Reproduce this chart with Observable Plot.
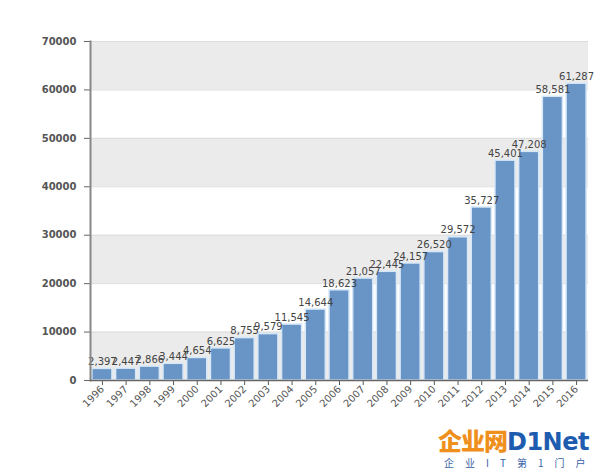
<!DOCTYPE html>
<html>
<head>
<meta charset="utf-8">
<script src="https://cdn.jsdelivr.net/npm/d3@7"></script>
<script src="https://cdn.jsdelivr.net/npm/@observablehq/plot@0.6"></script>
<style>
  html, body { margin: 0; padding: 0; background: #fff; }
  #wrap { position: relative; width: 600px; height: 473px; }
  #mark { position: absolute; left: 438px; top: 426px; width: 162px; font-family: "DejaVu Sans", sans-serif; }
  #mark .logo { font-size: 24px; font-weight: bold; line-height: 28px; white-space: nowrap; }
  #mark .cn { color: #f0901c; font-family: "Noto Sans CJK SC", sans-serif; font-weight: 900; letter-spacing: -1px; }
  #mark .en { color: #1d5cae; letter-spacing: -0.5px; }
  #mark .sub { font-family: "Noto Sans CJK SC", sans-serif; font-size: 10px; color: #3a63a8; letter-spacing: 11px; margin-left: 6px; line-height: 14px; white-space: nowrap; }
</style>
</head>
<body>
<div id="wrap">
  <div id="chart"></div>
  <div id="mark"><div class="logo"><span class="cn">企业网</span><span class="en">D1Net</span></div><div class="sub">企业IT第1门户</div></div>
</div>
<script>
const years = ["1996","1997","1998","1999","2000","2001","2002","2003","2004","2005","2006","2007","2008","2009","2010","2011","2012","2013","2014","2015","2016"];
const values = [2397,2447,2866,3444,4654,6625,8755,9579,11545,14644,18623,21057,22445,24157,26520,29572,35727,45401,47208,58581,61287];
const yTicks = [0,10000,20000,30000,40000,50000,60000,70000];
const greyBandStarts = [0,20000,40000,60000];
const bandSize = 10000;

const data = years.map((y, i) => ({year: y, value: values[i]}));
const fmt = d3.format(",");

const chart = Plot.plot({
  width: 600,
  height: 473,
  marginLeft: 90,
  marginRight: 12,
  marginTop: 41,
  marginBottom: 93,
  style: {fontFamily: "DejaVu Sans, sans-serif", fontSize: "10px", color: "#555", background: "transparent"},
  x: {domain: years, paddingInner: 0.155, paddingOuter: 0.08, round: false, label: null},
  y: {domain: [0, 70000], label: null},
  marks: [
    Plot.rect(greyBandStarts, {y1: d => d, y2: d => d + bandSize, fill: "#ebebeb"}),
    Plot.ruleY(yTicks, {stroke: "#dcdcdc", strokeWidth: 1}),
    Plot.barY(data, {x: "year", y: "value", fill: "#6994c6", stroke: "#d6e8f8", strokeWidth: 1.5}),
    Plot.text(data, {x: "year", y: "value", text: d => fmt(d.value), dy: -7, fill: "#444", fontSize: 10}),
    Plot.axisY({ticks: yTicks, tickFormat: d => String(d), tickSize: 6, tickPadding: 8, fontWeight: "bold", fill: "#555", stroke: "#666"}),
    Plot.axisX({tickRotate: -45, tickSize: 5, tickPadding: 2, fill: "#555", stroke: "#555", fontSize: 10}),
    Plot.frame({anchor: "left", stroke: "#888", strokeWidth: 2}),
    Plot.ruleY([0], {stroke: "#666", strokeWidth: 1.5})
  ]
});
document.getElementById("chart").appendChild(chart);
</script>
</body>
</html>
